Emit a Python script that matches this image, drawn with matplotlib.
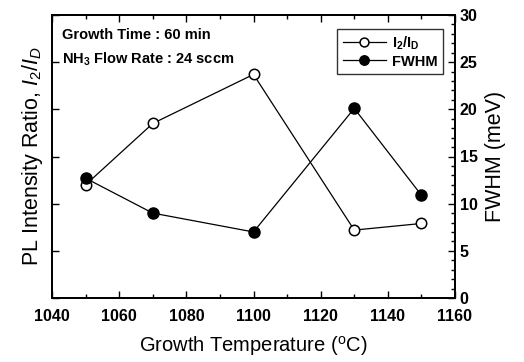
import matplotlib
matplotlib.use("Agg")
import matplotlib.pyplot as plt
from matplotlib.ticker import MultipleLocator

plt.rcParams['font.family'] = ['Liberation Sans', 'DejaVu Sans']
plt.rcParams['mathtext.fontset'] = 'custom'
plt.rcParams['mathtext.rm'] = 'Liberation Sans'
plt.rcParams['mathtext.it'] = 'Liberation Sans:italic'
plt.rcParams['mathtext.bf'] = 'Liberation Sans:bold'

temperature = [1050, 1070, 1100, 1130, 1150]
ratio_i2_id = [12.0, 18.5, 23.7, 7.2, 7.9]
fwhm_mev = [12.7, 9.0, 7.0, 20.1, 10.9]

fig = plt.figure(figsize=(5.24, 3.62), dpi=100)
ax = fig.add_axes([52 / 524, 64 / 362, 403 / 524, 283 / 362])
ax2 = ax.twinx()

l1, = ax.plot(temperature, ratio_i2_id, '-', color='black', lw=0.9,
              marker='o', ms=7.5, mfc='white', mec='black', mew=1.1,
              label=r'I$_\mathbf{2}$/I$_\mathbf{D}$')
l2, = ax2.plot(temperature, fwhm_mev, '-', color='black', lw=0.9,
               marker='o', ms=8, mfc='black', mec='black',
               label='FWHM')

for a in (ax, ax2):
    a.set_xlim(1040, 1160)
    a.set_ylim(0, 30)

ax.xaxis.set_major_locator(MultipleLocator(20))
ax.xaxis.set_minor_locator(MultipleLocator(10))
ax.yaxis.set_major_locator(MultipleLocator(5))
ax.tick_params(axis='x', which='both', direction='in', top=True, labelsize=11.5,
               pad=8)
ax.tick_params(axis='x', which='major', length=5, width=1)
ax.tick_params(axis='x', which='minor', length=3, width=1)
ax.tick_params(axis='y', which='major', direction='in', length=5, width=1,
               labelleft=False)
for lbl in ax.get_xticklabels():
    lbl.set_fontweight('bold')

ax2.yaxis.set_major_locator(MultipleLocator(5))
ax2.yaxis.set_minor_locator(MultipleLocator(1))
ax2.tick_params(axis='y', which='major', direction='in', length=5, width=1,
                labelsize=11.5)
ax2.tick_params(axis='y', which='minor', direction='in', length=3, width=1)
for lbl in ax2.get_yticklabels():
    lbl.set_fontweight('bold')

for a in (ax, ax2):
    for s in a.spines.values():
        s.set_linewidth(1.3)

ax.set_xlabel('Growth Temperature ($^{\\rm o}$C)', fontsize=14.5, labelpad=7)
ax.set_ylabel('PL Intensity Ratio, $I_2$/$I_D$', fontsize=15.5, labelpad=5)
ax2.set_ylabel('FWHM (meV)', fontsize=15.5, labelpad=5)

ax.text(0.025, 0.955, 'Growth Time : 60 min', transform=ax.transAxes,
        fontsize=10.5, fontweight='bold', va='top', ha='left')
ax.text(0.025, 0.875, r'NH$_\mathbf{3}$ Flow Rate : 24 sccm', transform=ax.transAxes,
        fontsize=10.5, fontweight='bold', va='top', ha='left')

leg = ax.legend(handles=[l1, l2], loc='upper right',
                bbox_to_anchor=(0.97, 0.95), frameon=True,
                fancybox=False, edgecolor='black', handlelength=3.0,
                borderpad=0.35, labelspacing=0.2, handletextpad=0.4,
                borderaxespad=0.0, markerscale=0.85,
                prop={'weight': 'bold', 'size': 10.5})
leg.get_frame().set_linewidth(1.0)

fig.savefig('out.png', dpi=100)
